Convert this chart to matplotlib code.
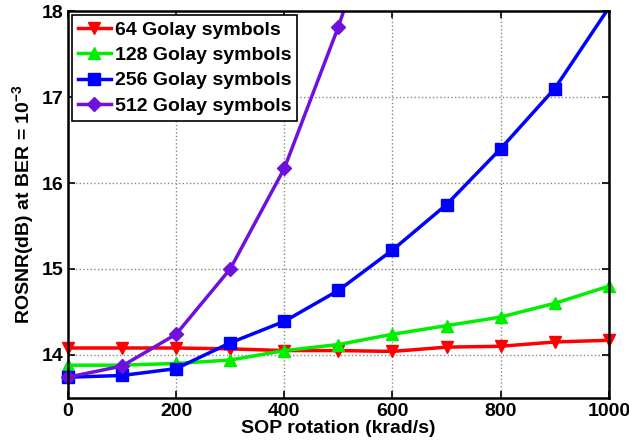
import numpy as np
import matplotlib
matplotlib.use("Agg")
import matplotlib.pyplot as plt

plt.rcParams["font.family"] = ["Liberation Sans", "DejaVu Sans"]
plt.rcParams["font.weight"] = "bold"
plt.rcParams["mathtext.fontset"] = "custom"
plt.rcParams["mathtext.rm"] = "Liberation Sans:bold"
plt.rcParams["mathtext.bf"] = "Liberation Sans:bold"

# SOP rotation (krad/s)
sop = [0, 100, 200, 300, 400, 500, 600, 700, 800, 900, 1000]

rosnr_64 = [14.08, 14.08, 14.08, 14.07, 14.05, 14.05, 14.04, 14.09, 14.10, 14.15, 14.17]
rosnr_128 = [13.88, 13.88, 13.90, 13.94, 14.05, 14.12, 14.24, 14.34, 14.44, 14.60, 14.80]
rosnr_256 = [13.74, 13.76, 13.84, 14.14, 14.39, 14.75, 15.22, 15.75, 16.40, 17.10, 18.04]
sop_512 = [0, 100, 200, 300, 400, 500, 600]
rosnr_512 = [13.74, 13.87, 14.24, 15.00, 16.17, 17.82, 19.70]

labels = ["64 Golay symbols", "128 Golay symbols",
          "256 Golay symbols", "512 Golay symbols"]

fig = plt.figure(figsize=(6.29, 4.48), dpi=100)
ax = fig.add_axes([0.108, 0.112, 0.86, 0.863])

ymax = 18
series = [
    (sop, rosnr_64, "#ff0000", "v", 9),
    (sop, rosnr_128, "#00ee00", "^", 9),
    (sop, rosnr_256, "#0000ff", "s", 8),
    (sop_512, rosnr_512, "#7010dd", "D", 7),
]
for (x, y, c, m, ms), lab in zip(series, labels):
    # line clipped to the axes, markers allowed to overhang the frame
    ax.plot(x, y, color=c, lw=2.5)
    y_m = np.ma.masked_greater(np.array(y), ymax)
    ax.plot(x, y_m, color=c, lw=0, marker=m, ms=ms, clip_on=False)
    ax.plot([], [], color=c, lw=2.5, marker=m, ms=ms, label=lab)

ax.set_xlim(0, 1000)
ax.set_ylim(13.5, ymax)
ax.set_xticks(range(0, 1001, 200))
ax.set_yticks([14, 15, 16, 17, 18])
ax.grid(True, linestyle=":", color="#888888", lw=1)
ax.tick_params(direction="in", labelsize=14, width=1.2, length=5, top=True, right=True)
for lbl in ax.get_xticklabels() + ax.get_yticklabels():
    lbl.set_fontweight("bold")
for s in ax.spines.values():
    s.set_linewidth(1.8)

ax.set_xlabel("SOP rotation (krad/s)", fontsize=14, fontweight="bold", labelpad=0)
ax.set_ylabel("ROSNR(dB) at BER = 10$^{-3}$", fontsize=14, fontweight="bold", labelpad=3)

leg = ax.legend(loc="upper left", fontsize=14, fancybox=False, framealpha=1,
                edgecolor="black", borderaxespad=0.2, handlelength=1.7,
                handletextpad=0.2, labelspacing=0.4, borderpad=0.3)
leg.get_frame().set_linewidth(1.2)
for t in leg.get_texts():
    t.set_fontweight("bold")

fig.savefig("out.png", dpi=100)
